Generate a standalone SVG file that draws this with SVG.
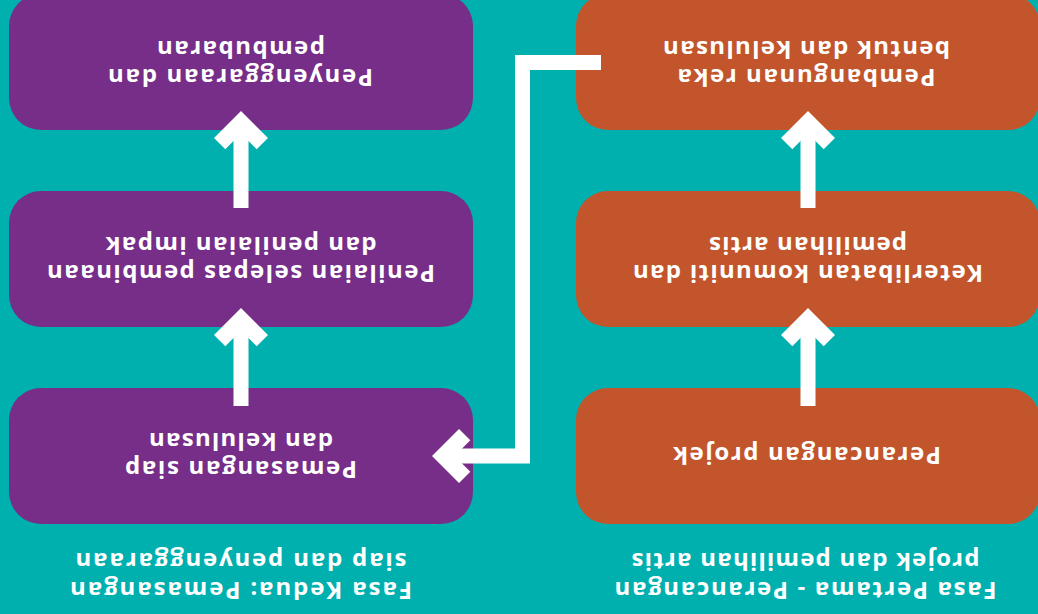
<svg xmlns="http://www.w3.org/2000/svg" width="1038" height="614" viewBox="0 0 1038 614">
<style>
.bg{fill:#00b0ae}
.p{fill:#762e88}
.o{fill:#c2552b}
text{font-family:"Open Sans","Noto Sans","Liberation Sans",sans-serif;font-weight:700;font-size:24px;fill:#ffffff;text-anchor:middle}
.shaft{fill:#ffffff}
.head{fill:#ffffff}
.conn{fill:none;stroke:#ffffff;stroke-width:15;stroke-linejoin:miter;stroke-linecap:butt}
</style>
<defs>
<path id="ah" d="M0,0 L27,-27 L15.7,-38.3 L0,-22.6 L-15.7,-38.3 L-27,-27 Z"/>
</defs>
<rect class="bg" x="0" y="0" width="1038" height="614"/>
<g transform="rotate(180 519 307)">
  <g id="heading1">
    <text x="232.5" y="32" textLength="382" lengthAdjust="spacing">Fasa Pertama - Perancangan</text>
    <text x="232.5" y="61" textLength="348" lengthAdjust="spacing">projek dan pemilihan artis</text>
  </g>
  <g id="heading2">
    <text x="797" y="32" textLength="342" lengthAdjust="spacing">Fasa Kedua: Pemasangan</text>
    <text x="797" y="61" textLength="331" lengthAdjust="spacing">siap dan penyenggaraan</text>
  </g>
  <g id="n1">
    <rect class="o" x="-2" y="90" width="464" height="136" rx="32"/>
    <text x="231" y="167" textLength="268" lengthAdjust="spacing">Perancangan projek</text>
  </g>
  <g id="n2">
    <rect class="o" x="-2" y="287" width="464" height="136" rx="32"/>
    <text x="230" y="349" textLength="350" lengthAdjust="spacing">Keterlibatan komuniti dan</text>
    <text x="230" y="377" textLength="198" lengthAdjust="spacing">pemilihan artis</text>
  </g>
  <g id="n3">
    <rect class="o" x="-2" y="484" width="464" height="136" rx="32"/>
    <text x="231.5" y="545" textLength="258" lengthAdjust="spacing">Pembangunan reka</text>
    <text x="231.5" y="573.5" textLength="287" lengthAdjust="spacing">bentuk dan kelulusan</text>
  </g>
  <g id="n4">
    <rect class="p" x="565" y="90" width="464" height="136" rx="32"/>
    <text x="797" y="153" textLength="232" lengthAdjust="spacing">Pemasangan siap</text>
    <text x="797" y="181" textLength="184" lengthAdjust="spacing">dan kelulusan</text>
  </g>
  <g id="n5">
    <rect class="p" x="565" y="287" width="464" height="136" rx="32"/>
    <text x="797" y="349" textLength="388" lengthAdjust="spacing">Penilaian selepas pembinaan</text>
    <text x="797" y="377" textLength="271" lengthAdjust="spacing">dan penilaian impak</text>
  </g>
  <g id="n6">
    <rect class="p" x="565" y="484" width="464" height="136" rx="32"/>
    <text x="797.5" y="545" textLength="265" lengthAdjust="spacing">Penyenggaraan dan</text>
    <text x="797" y="573.5" textLength="168" lengthAdjust="spacing">pembubaran</text>
  </g>
  <g id="connectors">
    <rect class="shaft" x="222.5" y="208" width="15" height="78"/>
    <use href="#ah" class="head" transform="translate(230,306)"/>
    <rect class="shaft" x="222.5" y="406" width="15" height="78"/>
    <use href="#ah" class="head" transform="translate(230,503)"/>
    <rect class="shaft" x="789.5" y="208" width="15" height="78"/>
    <use href="#ah" class="head" transform="translate(797,306)"/>
    <rect class="shaft" x="789.5" y="406" width="15" height="78"/>
    <use href="#ah" class="head" transform="translate(797,503)"/>
    <path class="conn" d="M437,551.5 H515.5 V158 H588"/>
    <use href="#ah" class="head" transform="translate(606,158) rotate(-90)"/>
  </g>
</g>
</svg>
